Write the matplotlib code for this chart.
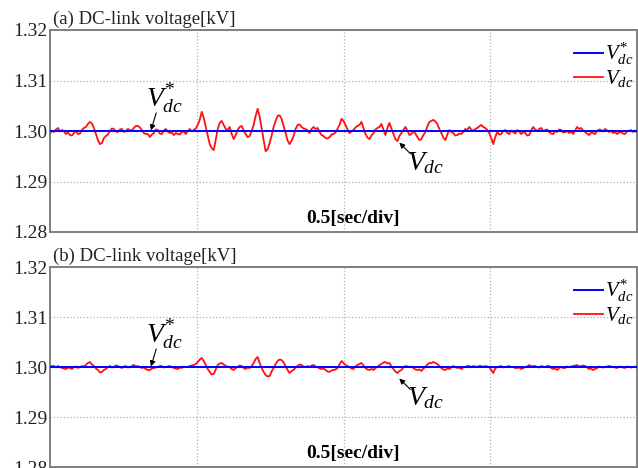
import matplotlib
matplotlib.use("Agg")
import matplotlib.pyplot as plt
import numpy as np

plt.rcParams['font.family'] = ['Liberation Serif', 'DejaVu Serif']
plt.rcParams['mathtext.fontset'] = 'custom'
plt.rcParams['mathtext.rm'] = 'Liberation Serif'
plt.rcParams['mathtext.it'] = 'Liberation Serif:italic'

# reference voltage [kV] and ripple [V], one sample per ~2 px
v_ref = 1.30
ripple_a = [-0.6, 0.1, -0.2, 0.3, 0.6, -0.1, 0.2, -0.1, -0.6, -0.3, -0.8, -0.9, -0.4, 0.0, -0.6, -0.5, 0.2, 0.6, 0.8, 1.4,
            1.8, 1.5, 0.6, -0.6, -1.8, -2.6, -2.4, -1.4, -1.0, -0.7, 0.0, 0.5, 0.4, -0.1, -0.2, 0.3, 0.4, -0.2, 0.0, 0.4,
            0.2, 0.1, 0.6, 1.0, 1.0, 0.7, 0.2, -0.4, -0.6, -0.6, -1.2, -0.7, -0.4, 0.3, 0.2, -0.5, -0.6, 0.1, 0.4, -0.1,
            -0.4, -0.3, -0.8, -0.4, -0.6, -0.7, -0.2, -0.1, -0.6, 0.0, 0.4, -0.1, 0.2, 0.5, 1.2, 2.2, 3.8, 2.6, 0.8, -0.9,
            -2.6, -3.4, -3.8, -1.8, 0.4, 1.6, 2.0, 1.2, 0.4, 0.2, 0.8, -0.6, -1.6, -0.8, 0.2, 0.8, 1.0, 0.1, -0.6, -1.2,
            -1.0, 0.0, 1.2, 3.0, 4.4, 2.8, 0.6, -1.8, -4.0, -3.6, -2.4, -0.9, 0.8, 2.0, 3.0, 3.1, 2.4, 1.0, -0.4, -1.9,
            -2.6, -1.9, -1.0, 0.4, 1.2, 1.3, 0.8, 0.5, 0.4, 0.1, -0.4, 0.4, 0.8, 0.4, 0.6, -0.2, -0.8, -1.0, -1.4, -1.5,
            -1.2, -0.7, -0.6, -0.3, 0.4, 1.2, 2.4, 2.0, 1.2, 0.3, -0.4, -0.1, 0.2, 0.7, 1.0, 1.2, 1.8, 0.6, -0.6, -1.3,
            -1.6, -0.9, -0.4, 0.3, 0.6, 0.8, 1.4, 0.3, -0.8, 0.6, 1.6, 0.5, -0.6, -1.6, -2.0, -1.0, -0.4, 0.2, 0.8, 0.1,
            -0.8, -0.6, 0.0, -0.5, -1.2, -1.8, -1.6, -0.8, -0.2, 0.9, 1.8, 2.0, 2.2, 1.9, 1.4, 0.4, -0.4, -1.3, -1.8, -0.7,
            0.2, -0.2, -0.4, -0.9, -0.8, -0.5, -0.6, -0.2, 0.4, 0.2, 0.8, 0.3, 0.0, 0.4, 0.6, 0.9, 1.2, 0.8, 0.6, 0.2,
            -0.4, -1.4, -2.6, -1.2, -0.2, -0.7, -0.6, 0.0, 0.2, -0.4, -0.6, 0.1, -0.2, -0.5, 0.2, -0.1, -0.6, -0.2, -0.4, -0.9,
            -0.8, 0.1, 0.8, 0.3, 0.0, 0.4, 0.6, 0.0, 0.2, 0.3, -0.2, -0.5, -0.6, 0.0, -0.2, 0.3, 0.2, -0.3, -0.2, 0.0,
            -0.4, -0.1, -0.6, 0.1, 0.8, 0.4, 0.6, 0.1, -0.2, -0.5, -0.8, -0.3, -0.4, -0.6, 0.0, 0.3, 0.2, -0.1, 0.4, 0.1,
            -0.2, 0.1, -0.4, -0.2, -0.6, -0.3, -0.2, -0.5, -0.6, -0.1, 0.0, 0.2, -0.2, 0.1, -0.4]
ripple_b = [0.0, 0.2, 0.2, -0.1, 0.2, 0.0, -0.2, -0.3, -0.4, -0.1, -0.2, -0.4, 0.0, 0.1, -0.2, 0.0, 0.2, 0.1, 0.4, 0.8,
            1.0, 0.5, 0.2, -0.3, -0.6, -1.1, -1.0, -0.6, -0.4, 0.0, 0.2, -0.1, 0.0, 0.3, 0.2, 0.0, -0.2, 0.1, 0.2, -0.1,
            0.0, 0.2, 0.4, 0.1, 0.2, 0.0, -0.2, -0.1, -0.4, -0.6, -0.6, -0.3, -0.2, -0.1, 0.0, 0.2, 0.2, -0.1, 0.0, 0.1,
            0.2, 0.0, -0.2, -0.3, -0.4, -0.1, -0.2, 0.1, 0.0, 0.0, 0.2, 0.3, 0.4, 0.6, 1.0, 1.5, 1.8, 1.2, 0.4, -0.4,
            -1.0, -1.5, -1.4, -0.5, 0.4, 0.7, 0.8, 0.5, 0.2, 0.1, 0.0, -0.4, -0.6, -0.2, 0.0, 0.3, 0.2, -0.2, -0.4, -0.1,
            -0.2, 0.2, 0.8, 1.6, 2.0, 0.8, -0.2, -1.0, -1.6, -1.9, -1.8, -0.9, -0.2, 0.6, 1.2, 1.5, 1.4, 0.9, 0.2, -0.6,
            -1.2, -0.8, -0.6, -0.1, 0.2, 0.5, 0.4, 0.1, 0.0, 0.2, 0.0, 0.3, 0.4, 0.1, 0.0, -0.3, -0.4, -0.3, -0.6, -0.9,
            -1.0, -0.7, -0.6, -0.5, -0.2, 0.5, 1.2, 0.8, 0.4, 0.2, 0.0, -0.3, -0.4, 0.1, 0.4, 0.6, 0.8, 0.3, -0.2, -0.5,
            -0.6, -0.4, -0.6, -0.2, 0.0, 0.4, 0.6, 0.9, 1.0, 0.7, 0.8, 0.1, -0.4, -0.9, -1.2, -0.8, -0.6, -0.1, 0.2, 0.1,
            0.0, 0.1, -0.2, -0.5, -0.6, -0.5, -0.8, -0.3, 0.0, 0.5, 0.8, 0.8, 1.0, 0.8, 0.6, 0.2, -0.2, -0.5, -0.6, -0.3,
            -0.4, -0.1, 0.2, 0.0, -0.2, -0.1, -0.4, -0.1, 0.0, 0.2, 0.2, 0.0, 0.2, 0.1, 0.0, 0.2, 0.2, 0.0, 0.2, 0.1,
            0.0, -0.6, -1.2, -0.3, 0.0, 0.1, 0.2, -0.1, 0.0, 0.1, 0.2, 0.0, 0.0, -0.2, -0.2, -0.1, -0.4, -0.2, 0.0, 0.1,
            0.4, 0.1, 0.2, 0.2, 0.0, -0.1, 0.2, 0.1, 0.0, 0.2, 0.2, -0.2, -0.4, -0.3, -0.6, -0.2, 0.0, -0.2, -0.2, 0.1,
            0.0, 0.1, 0.2, 0.3, 0.4, 0.1, 0.2, 0.3, 0.2, -0.1, -0.4, -0.3, -0.6, -0.4, -0.2, 0.1, 0.0, -0.1, 0.0, 0.1,
            0.2, 0.1, 0.0, -0.1, -0.2, 0.1, 0.0, -0.1, -0.2, 0.1, 0.0, -0.1, 0.0, 0.1, -0.2]
titles = ["(a) DC-link voltage[kV]", "(b) DC-link voltage[kV]"]
yticks = [1.28, 1.29, 1.30, 1.31, 1.32]
t_end = 2.0  # 4 div x 0.5 s

fig = plt.figure(figsize=(6.38, 4.68), dpi=100)
positions = [[50/638, 236/468, 587/638, 202/468],
             [50/638, 1/468, 587/638, 200/468]]

for k, ripple in enumerate([ripple_a, ripple_b]):
    ax = fig.add_axes(positions[k])
    t = np.linspace(0, t_end, len(ripple))
    vdc = v_ref + np.array(ripple) / 1000.0
    ax.plot(t, vdc, color='#ff1010', lw=1.3, label=r'$V_{dc}$', zorder=2)
    ax.axhline(v_ref, color='#0000ff', lw=1.4, label=r'$V_{dc}^{*}$', zorder=3)
    ax.set_xlim(0, t_end)
    ax.set_ylim(1.28, 1.32)
    ax.set_yticks(yticks)
    ax.set_yticklabels(["%.2f" % v for v in yticks])
    ax.set_xticks([0.5, 1.0, 1.5])
    ax.set_xticklabels([])
    ax.tick_params(length=0, labelsize=14, pad=2, colors='#222222')
    ax.grid(True, color='#b0b0b0', ls=':', lw=0.9)
    for s in ax.spines.values():
        s.set_color('#808080')
        s.set_linewidth(1.4)
    ax.text(0.005, 1.01, titles[k], transform=ax.transAxes, fontsize=13.5,
            ha='left', va='bottom', color='#222222')
    ax.text(0.517, 0.068, "0.5[sec/div]", transform=ax.transAxes, fontsize=14,
            fontweight='bold', ha='center', va='center')
    h, l = ax.get_legend_handles_labels()
    ax.legend(h[::-1], l[::-1], loc='upper right', bbox_to_anchor=(1.012, 1.0),
              frameon=False, fontsize=15, handlelength=1.4, handletextpad=0.1,
              labelspacing=0.05, borderaxespad=0.1)
    # labels with arrows
    ax.text(0.392, 1.3064, r'$V_{dc}^{*}$', fontsize=20, ha='center', va='center')
    ax.annotate('', xy=(0.344, 1.3001), xytext=(0.362, 1.3036),
                arrowprops=dict(arrowstyle='-|>', color='black', lw=0.8,
                                shrinkA=0, shrinkB=0, mutation_scale=8))
    ax.text(1.278, 1.2937, r'$V_{dc}$', fontsize=20, ha='center', va='center')
    ax.annotate('', xy=(1.19, 1.2977), xytext=(1.228, 1.2955),
                arrowprops=dict(arrowstyle='-|>', color='black', lw=0.8,
                                shrinkA=0, shrinkB=0, mutation_scale=8))

fig.savefig("out.png", dpi=100)
